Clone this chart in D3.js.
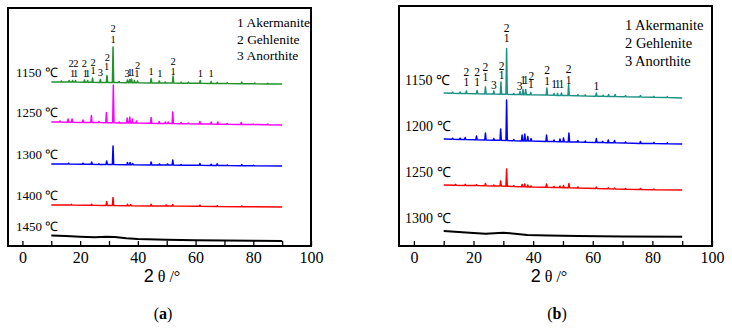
<!DOCTYPE html>
<html>
<head>
<meta charset="utf-8">
<script src="https://cdn.jsdelivr.net/npm/d3@7"></script>
<style>
  body { margin: 0; background: #fff; }
  text { font-family: "Liberation Serif", "Times New Roman", serif; fill: #000; }
</style>
</head>
<body>
<svg id="chart" width="732" height="331"></svg>
<script>
// XRD patterns, rows are [2theta, baseline level, peak top] (a.u.)
// a row with top == baseline is just a point of the background
const a_1150 = [[10,164,164],[13.5,164,165],[16.2,164,165.5],[17.4,163.9,165.5],[18.4,163.9,165.5],[21.5,163.8,166],[22.6,163.8,165.5],[24.3,163.7,168],[27.0,163.6,166.5],[29.3,163.6,170.5],[31.4,163.5,199],[33.5,163.5,164.5],[36.4,163.3,166],[37.2,163.3,166.5],[37.8,163.3,167],[38.8,163.2,165.5],[39.9,163.2,165],[44.6,163.1,167.5],[47.4,163,165],[49.5,163,164],[52.2,162.9,170],[55,162.8,163.8],[57.5,162.8,163.8],[61.6,162.7,165.5],[65.4,162.6,164.5],[67.5,162.5,163.5],[71,162.4,163.2],[76,162.3,164],[80.5,162.2,163],[85,162.1,162.8],[90,162,162]];
const a_1250 = [[10,124,124],[13,124,125],[15.8,123.8,127],[17.2,123.8,127],[21,123.6,126],[23.9,123.5,130.5],[26.5,123.4,124.5],[29.1,123.3,133.5],[31.5,123.2,161],[33.5,123.1,124],[36.3,123,128],[37.2,123,129],[38.1,122.9,127],[39.5,122.9,125],[44.6,122.7,128.5],[47.4,122.6,124.5],[49.5,122.5,124],[50.5,122.5,124],[52.1,122.4,134],[55,122.3,123.5],[57.5,122.2,123],[61.5,122,124.5],[65.4,121.9,124],[67.7,121.8,124],[71,121.7,122.5],[75.8,121.5,123.5],[80,121.4,122],[85,121.2,122],[90,121,121]];
const a_1300 = [[10,82,82],[16,81.9,82.8],[21,81.8,82.8],[24,81.7,84],[26.5,81.6,82.3],[29.2,81.6,85],[31.4,81.5,100],[36.4,81.3,83.5],[37.3,81.3,83.5],[38.2,81.3,82.5],[44.6,81.1,84],[47.5,81,82],[50.3,81,82],[52.1,80.9,86],[55,80.8,81.5],[61.5,80.7,82.5],[65.4,80.6,81.8],[67.5,80.5,82.3],[71,80.4,81],[76,80.3,81.5],[80,80.2,80.8],[90,80,80]];
const a_1400 = [[10,41,41],[17,40.9,41.6],[24,40.7,41.8],[29.2,40.6,44.5],[31.4,40.5,48.5],[36.4,40.3,41.8],[37.5,40.3,41.5],[44.6,40.1,41.8],[49.8,40,41],[52.1,39.9,41.5],[61.5,39.7,40.8],[67.5,39.5,40.3],[76,39.3,40],[90,39,39]];
const a_1450 = [[10,10.5,10.5],[15,10,10],[20,9.3,9.3],[25,8.8,8.8],[29,9.2,9.2],[32,9,9],[36,7.8,7.8],[40,7,7],[50,6.2,6.2],[60,5.8,5.8],[70,5.5,5.5],[80,5.2,5.2],[90,5,5]];

const b_1150 = [[10,153,153],[13,152.8,153.8],[15.5,152.6,154],[17.6,152.5,155],[21.2,152.3,155.5],[24.0,152.1,159],[26.8,151.9,155],[29.2,151.8,164],[31.1,151.7,197.5],[33.5,151.5,152.5],[35.6,151.4,154.5],[36.6,151.3,156.5],[37.5,151.3,156.5],[39.2,151.2,153.5],[44.6,150.9,158],[47,150.7,152.5],[48.2,150.6,152.5],[49.5,150.6,153],[51.9,150.4,161.5],[55,150.2,151.5],[57.5,150,151.2],[61.2,149.8,153],[63.5,149.7,150.8],[65.3,149.6,151.5],[67.5,149.5,151.5],[71,149.3,150.3],[76,149,150.5],[80.5,148.7,149.7],[85,148.4,149.4],[90,148,148]];
const b_1200 = [[10,107,107],[13,106.8,107.8],[15.5,106.6,107.8],[17.2,106.5,108.5],[21,106.2,110],[24,106,113],[26.8,105.8,107.5],[29.1,105.7,117],[31.1,105.5,146],[33.5,105.3,106.5],[36.3,105.1,111],[37.2,105.1,112],[38.2,105,109.5],[39.3,104.9,107.5],[44.5,104.6,111],[47,104.4,106],[49,104.3,107],[50.2,104.2,108],[52,104.1,113],[55,103.9,105.5],[57.5,103.7,105],[61.2,103.5,107.5],[63.3,103.4,104.8],[65.2,103.3,106],[67.3,103.2,105.5],[71,103,104],[76,102.6,104.5],[80.5,102.4,103.5],[85,102.2,103.2],[90,102,102]];
const b_1250 = [[10,61,61],[14,60.8,61.6],[17.2,60.6,61.6],[21,60.4,61.3],[24,60.2,62.5],[26.8,60.1,60.9],[29.1,60,65],[31.1,59.8,77],[33.5,59.5,60.4],[36.3,59.3,61.5],[37.2,59.2,62],[38.2,59.1,61],[39.3,59,60],[44.5,58.7,62],[47,58.5,59.5],[49,58.4,60],[50.2,58.3,60.5],[52,58.2,62.5],[55,58,59],[61.2,57.5,59],[65.2,57.2,58.2],[67.3,57.1,58],[71,56.8,57.5],[76,56.5,57.5],[80.5,56.3,56.9],[90,56,56]];
const b_1300 = [[10,15,15],[15,14,14],[20,13,13],[24,12.2,12.2],[27,12.8,12.8],[30,13.3,13.3],[33,12.6,12.6],[38,11,11],[45,10.5,10.5],[55,10,10],[70,9.6,9.6],[90,9.2,9.2]];

const a_temps = ["1150 \u2103", "1250 \u2103", "1300 \u2103", "1400 \u2103", "1450 \u2103"];
const b_temps = ["1150 \u2103", "1200 \u2103", "1250 \u2103", "1300 \u2103"];
const a_colors = ["#22922a", "#ff00ff", "#0000ff", "#ff0000", "#000000"];
const b_colors = ["#1c9286", "#0000ff", "#ff0000", "#000000"];
const phases = ["1 Akermanite", "2 Gehlenite", "3 Anorthite"];
const x_ticks = [0, 20, 40, 60, 80, 100];

// phase marks: 2theta, phase number, height (a.u.)
const a_mark_x = [16.9,18.5,17.4,18.4,21.5,21.8,22.6,24.5,24.5,27.0,29.4,29.2,31.4,31.4,36.3,37.2,38.1,39.9,39.7,44.6,47.6,52.2,52.2,61.7,65.4];
const a_mark_t = ["2","2","1","1","2","1","1","2","1","3","2","1","2","1","3","1","1","2","1","1","1","2","1","1","1"];
const a_mark_y = [183,183,173,173,183,173,173,184,176,174,189,180,218,207,173,174,174,181,173,175,173,185,175,173,173];
const b_mark_x = [17.6,17.6,21.2,21.2,24.0,24.0,26.8,29.4,29.4,31.1,31.1,35.5,36.6,37.5,39.4,39.2,44.7,44.7,47.0,48.2,49.5,51.9,51.9,61.2];
const b_mark_t = ["2","1","2","1","2","1","3","2","1","2","1","3","1","1","2","1","2","1","1","1","1","2","1","1"];
const b_mark_y = [174,164,174,164,179,169,161,180,171,218,208,160,166,166,170,162,176,165,162,162,162,177,166,160];

const svg = d3.select("#chart");
svg.append("rect").attr("width", 732).attr("height", 331).attr("fill", "#fff");

// turn the rows into line vertices, each peak a narrow spike
function toPoints(rows) {
  var pts = [];
  rows.forEach(function(r) {
    if (r[2] > r[1]) {
      pts.push([r[0] - 0.22, r[1]], [r[0], r[2]], [r[0] + 0.22, r[1]]);
    } else {
      pts.push([r[0], r[1]]);
    }
  });
  return pts;
}

function drawPanel(p) {
  var bottom = 246;
  var x = d3.scaleLinear().domain([-5, 100]).range([p.left, p.right]);
  var y = d3.scaleLinear().domain([0, p.ymax]).range([bottom, p.top]);
  var g = svg.append("g");

  var line = d3.line().x(d => x(d[0])).y(d => y(d[1]));

  p.series.forEach(function(s, i) {
    g.append("path")
      .attr("d", line(toPoints(s)))
      .attr("fill", "none")
      .attr("stroke", p.colors[i])
      .attr("stroke-width", p.colors[i] === "#000000" ? 2 : 1.5)
      .attr("stroke-linejoin", "round");

    g.append("text")
      .attr("x", p.labelX)
      .attr("y", y(s[0][1]) - p.labelDy)
      .attr("font-size", p.labelSize)
      .text(p.temps[i]);
  });

  // phase numbers over the peaks
  p.markX.forEach(function(m, i) {
    g.append("text")
      .attr("x", x(m))
      .attr("y", y(p.markY[i]))
      .attr("dy", "0.35em")
      .attr("text-anchor", "middle")
      .attr("font-size", p.markSize)
      .text(p.markT[i]);
  });

  // legend of phases
  phases.forEach(function(ph, i) {
    g.append("text")
      .attr("x", p.legX)
      .attr("y", p.legY + i * p.legStep)
      .attr("font-size", p.legSize)
      .text(ph);
  });

  // frame
  g.append("rect")
    .attr("x", p.left).attr("y", p.top)
    .attr("width", p.right - p.left).attr("height", bottom - p.top)
    .attr("fill", "none").attr("stroke", "#000").attr("stroke-width", 2);

  var axis = d3.axisBottom(x)
    .tickValues(d3.range(0, 101, 10))
    .tickSizeInner(-5).tickSizeOuter(0).tickPadding(6)
    .tickFormat(d => x_ticks.includes(d) ? d : "");
  var ax = g.append("g").attr("transform", "translate(0," + bottom + ")").call(axis);
  ax.select(".domain").remove();
  ax.selectAll("line").attr("stroke", "#000").attr("stroke-width", 1.3);
  ax.selectAll("text")
    .attr("font-size", 16)
    .attr("font-family", "'Liberation Serif', serif")
    .attr("fill", "#000");

  var title = g.append("text")
    .attr("x", p.titleX).attr("y", 282)
    .attr("text-anchor", "middle");
  title.append("tspan").attr("font-family", "'Liberation Sans', sans-serif").attr("font-size", 18).text("2");
  title.append("tspan").attr("font-size", 16).text(" \u03b8 /\u00b0");

  var cap = g.append("text")
    .attr("x", p.capX).attr("y", 319)
    .attr("text-anchor", "middle").attr("font-size", 16);
  cap.append("tspan").text("(");
  cap.append("tspan").attr("font-weight", "bold").text(p.cap);
  cap.append("tspan").text(")");
}

drawPanel({
  left: 8, right: 311, top: 8, ymax: 238,
  series: [a_1150, a_1250, a_1300, a_1400, a_1450],
  colors: a_colors, temps: a_temps,
  labelX: 16, labelDy: 5, labelSize: 13,
  markX: a_mark_x, markT: a_mark_t, markY: a_mark_y, markSize: 10.5,
  legX: 237, legY: 27, legStep: 16.5, legSize: 13.5,
  titleX: 162, capX: 163, cap: "a"
});

drawPanel({
  left: 399, right: 712, top: 6, ymax: 240,
  series: [b_1150, b_1200, b_1250, b_1300],
  colors: b_colors, temps: b_temps,
  labelX: 405, labelDy: 8, labelSize: 14,
  markX: b_mark_x, markT: b_mark_t, markY: b_mark_y, markSize: 11.5,
  legX: 625, legY: 30, legStep: 18, legSize: 14.5,
  titleX: 549, capX: 557, cap: "b"
});
</script>
</body>
</html>
